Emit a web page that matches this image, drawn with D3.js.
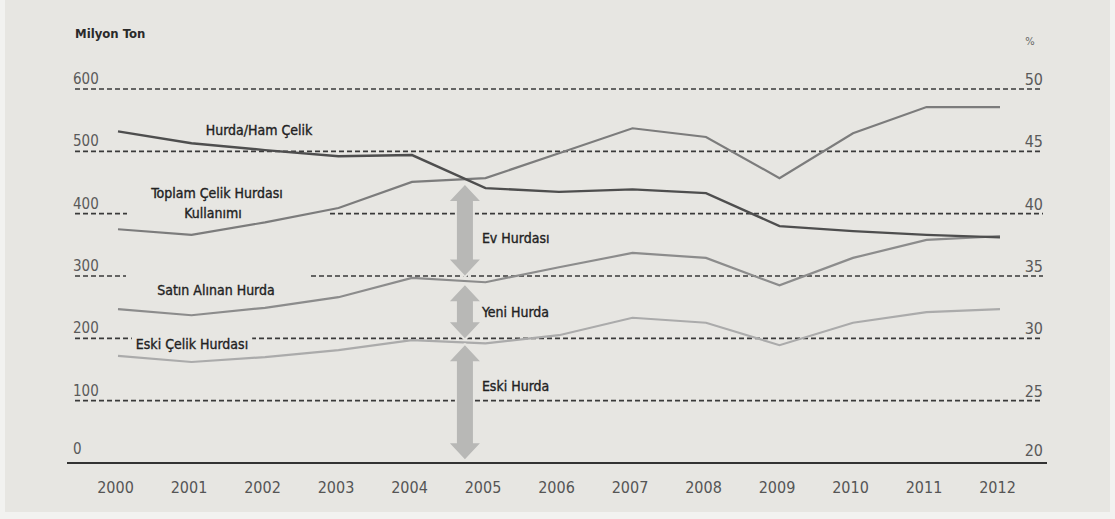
<!DOCTYPE html>
<html><head><meta charset="utf-8">
<script src="https://cdn.jsdelivr.net/npm/d3@7/dist/d3.min.js"></script>
<style>
html,body{margin:0;padding:0;background:#e7e6e2;}
svg{display:block;}
</style></head>
<body>
<svg id="chart" width="1115" height="519"></svg>
<script>
// ---- data ----
const years = [2000,2001,2002,2003,2004,2005,2006,2007,2008,2009,2010,2011,2012];
const toplamHurda = [375,366,386,409,451,457,497,537,523,457,529,571,571];   // Milyon Ton
const hurdaHamCelik = [46.6,45.65,45.1,44.6,44.7,42.05,41.75,41.95,41.65,39.0,38.6,38.3,38.1]; // %
const satinAlinan = [247,237,249,266,297,290,314,337,329,285,329,358,364];  // Milyon Ton
const eskiCelik = [172,162,170,181,197,192,205,233,225,189,225,242,247];    // Milyon Ton
const leftTicks = [0,100,200,300,400,500,600];
const rightTicks = [20,25,30,35,40,45,50];
const arrowLabels = ["Ev Hurdası","Yeni Hurda","Eski Hurda"];
const arrowTop = [446,285,189];
const arrowBottom = [301,200,6];
const arrowYear = 2004.72;

// ---- scales ----
const svg = d3.select("#chart");
const x = d3.scaleLinear().domain([2000,2012]).range([118,1000]);
const yL = d3.scaleLinear().domain([0,600]).range([463,89]);
const yR = d3.scaleLinear().domain([20,50]).range([463,89]);

const font = "'DejaVu Sans Condensed','DejaVu Sans',sans-serif";
const BG = "#e7e6e2";

svg.append("rect").attr("x",0).attr("y",0).attr("width",1115).attr("height",519).attr("fill","#f2f2f0");
svg.append("rect").attr("x",5).attr("y",0).attr("width",1105).attr("height",512).attr("fill",BG);

// ---- gridlines ----
const gx0 = 75, gx1 = 1043;
const grid = svg.append("g");
function gaps(v){
  if(v===400) return [[127,330]];
  if(v===300) return [[126,311]];
  return [];
}
leftTicks.filter(v=>v>0).forEach(v=>{
  let segs=[]; let start=gx0;
  gaps(v).forEach(g=>{segs.push([start,g[0]]); start=g[1];});
  segs.push([start,gx1]);
  segs.forEach(s=>{
    grid.append("line").attr("x1",s[0]).attr("x2",s[1])
      .attr("y1",yL(v)).attr("y2",yL(v))
      .attr("stroke","#3a3a3a").attr("stroke-width",1.6)
      .attr("stroke-dasharray","5,3");
  });
});
svg.append("line").attr("x1",67).attr("x2",1047).attr("y1",yL(0)).attr("y2",yL(0))
  .attr("stroke","#333").attr("stroke-width",2);

// ---- tick labels ----
svg.append("g").selectAll("text").data(leftTicks).join("text")
  .attr("x",73).attr("y",d=>yL(d)-(d===0?9:5))
  .attr("font-family",font).attr("font-size",15).attr("fill","#5a5a5a")
  .text(d=>d);
svg.append("g").selectAll("text").data(rightTicks).join("text")
  .attr("x",1043).attr("y",d=>yR(d)-(d===20?7:4)).attr("text-anchor","end")
  .attr("font-family",font).attr("font-size",16).attr("fill","#5a5a5a")
  .text(d=>d);

const xAxis = d3.axisBottom(x).tickValues(years).tickFormat(d3.format("d")).tickSize(0).tickPadding(0);
const gxa = svg.append("g").attr("transform","translate(-3,"+(yL(0)+19)+")").call(xAxis);
gxa.select(".domain").remove();
gxa.selectAll("text").attr("font-family",font).attr("font-size",16).attr("fill","#555");

svg.append("text").attr("x",75).attr("y",38).attr("font-family",font).attr("font-size",13)
  .attr("font-weight","bold").attr("fill","#2a2a2a").text("Milyon Ton");
svg.append("text").attr("x",1030).attr("y",45).attr("text-anchor","middle").attr("font-family",font).attr("font-size",11)
  .attr("fill","#666").text("%");

// ---- series ----
const lineL = d3.line().x((d,i)=>x(years[i])).y(d=>yL(d));
const lineR = d3.line().x((d,i)=>x(years[i])).y(d=>yR(d));
svg.append("path").datum(eskiCelik).attr("d",lineL).attr("fill","none").attr("stroke","#ababab").attr("stroke-width",2.2);
svg.append("path").datum(satinAlinan).attr("d",lineL).attr("fill","none").attr("stroke","#8c8c8c").attr("stroke-width",2.2);
svg.append("path").datum(toplamHurda).attr("d",lineL).attr("fill","none").attr("stroke","#7c7c7c").attr("stroke-width",2.2);
svg.append("path").datum(hurdaHamCelik).attr("d",lineR).attr("fill","none").attr("stroke","#4e4e4e").attr("stroke-width",2.4);

// ---- series labels ----
function label(txt,xx,yy,anchor,bg){
  const t = svg.append("text").attr("x",xx).attr("y",yy).attr("text-anchor",anchor||"start")
    .attr("font-family",font).attr("font-size",14).attr("fill","#222").attr("stroke","#222").attr("stroke-width",0.35).text(txt);
  if(bg){
    const b = t.node().getBBox();
    svg.insert("rect",()=>t.node()).attr("x",b.x-4).attr("y",b.y).attr("width",b.width+8).attr("height",b.height).attr("fill",BG);
  }
  return t;
}
label("Hurda/Ham Çelik",259,135,"middle");
label("Toplam Çelik Hurdası",217,198,"middle");
label("Kullanımı",213,218,"middle");
label("Satın Alınan Hurda",216,295,"middle");
label("Eski Çelik Hurdası",192,349,"middle",true);

// ---- arrows ----
const ax = x(arrowYear);
function arrowPath(top,bot){
  const hw=15, sw=8, hl=16;
  return `M${ax},${top} L${ax+hw},${top+hl} L${ax+sw},${top+hl} L${ax+sw},${bot-hl} L${ax+hw},${bot-hl} L${ax},${bot} L${ax-hw},${bot-hl} L${ax-sw},${bot-hl} L${ax-sw},${top+hl} L${ax-hw},${top+hl} Z`;
}
const labelFrac = [0.59,0.51,0.36]; // label position within each arrow span
const ag = svg.append("g");
arrowLabels.forEach((lab,i)=>{
  const t=yL(arrowTop[i]), b=yL(arrowBottom[i]);
  ag.append("path").attr("d",arrowPath(t,b)).attr("fill","#bdbdbb").attr("stroke",BG).attr("stroke-width",4).attr("stroke-linejoin","round");
  ag.append("path").attr("d",arrowPath(t,b)).attr("fill","#b8b8b6");
  ag.append("text").attr("x",ax+17).attr("y",t+(b-t)*labelFrac[i]+5)
    .attr("font-family",font).attr("font-size",14).attr("fill","#222").attr("stroke","#222").attr("stroke-width",0.35).text(lab);
});
</script>
</body></html>
